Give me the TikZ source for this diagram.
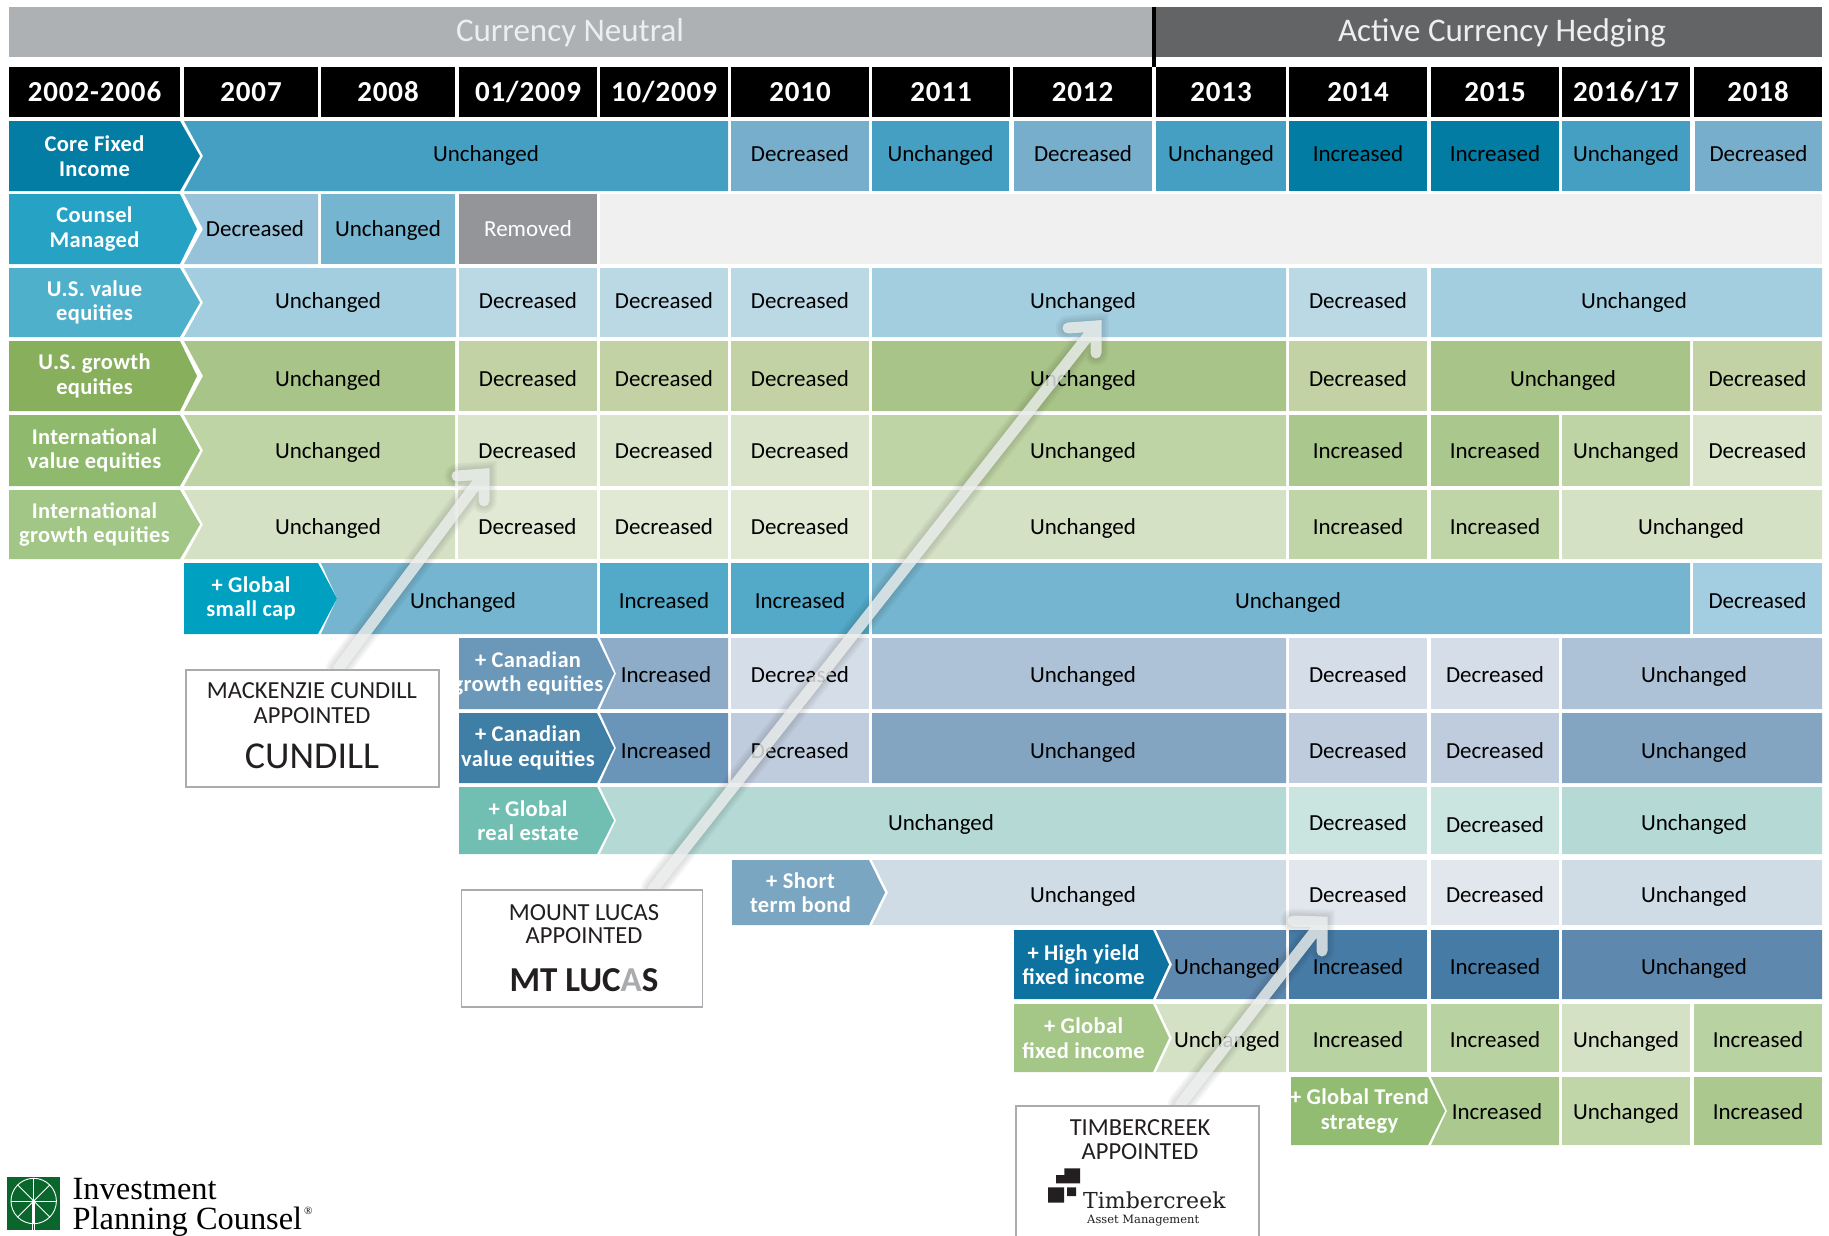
\documentclass[tikz,border=0pt]{standalone}
\usepackage{fontspec}
\setmainfont{Carlito}
\newfontfamily\hdfont[LetterSpace=3]{Carlito}
\newfontfamily\lbfont[LetterSpace=1.5]{Carlito}
\newfontfamily\ipcfont{Liberation Serif}
\newfontfamily\tcfont{DejaVu Serif}
\definecolor{bandL}{HTML}{AEB1B4}\definecolor{bandD}{HTML}{636466}\definecolor{bandT}{HTML}{EDEEEF}
\definecolor{rmv}{HTML}{939598}\definecolor{blank}{HTML}{F0F0F0}\definecolor{ink}{HTML}{231F20}
\definecolor{edge}{HTML}{A9ABAE}\definecolor{ipcg}{HTML}{0A662C}\definecolor{arw}{HTML}{EEF1EF}
\definecolor{La}{HTML}{047DA5}\definecolor{Lb}{HTML}{25A2C4}\definecolor{Lc}{HTML}{4FB0CC}
\definecolor{Ld}{HTML}{88B05C}\definecolor{Le}{HTML}{8FB96D}\definecolor{Lf}{HTML}{A2C686}
\definecolor{Lg}{HTML}{00A0C0}\definecolor{Lh}{HTML}{6B97B8}\definecolor{Li}{HTML}{3F7FA6}
\definecolor{Lj}{HTML}{70BFB2}\definecolor{Lk}{HTML}{7BA6C1}\definecolor{Ll}{HTML}{0E72A0}
\definecolor{Lm}{HTML}{A4C687}\definecolor{Ln}{HTML}{93BC73}
\definecolor{aU}{HTML}{459FC3}\definecolor{aD}{HTML}{76AECC}\definecolor{aI}{HTML}{027CA3}
\definecolor{bD}{HTML}{96C3D9}\definecolor{bU}{HTML}{75B5D0}
\definecolor{cU}{HTML}{A2CEDF}\definecolor{cD}{HTML}{BBD8E5}
\definecolor{dU}{HTML}{A9C488}\definecolor{dD}{HTML}{C3D2A5}
\definecolor{eU}{HTML}{BFD4A4}\definecolor{eD}{HTML}{D9E4CA}\definecolor{eI}{HTML}{AAC88D}
\definecolor{fU}{HTML}{D5E1C5}\definecolor{fD}{HTML}{E1E9D5}\definecolor{fI}{HTML}{BFD5A8}
\definecolor{gU}{HTML}{75B5D0}\definecolor{gI}{HTML}{53A9C8}\definecolor{gD}{HTML}{A3CDE0}
\definecolor{hU}{HTML}{ADC2D6}\definecolor{hD}{HTML}{D5DDE8}\definecolor{hI}{HTML}{8EACC7}
\definecolor{iU}{HTML}{84A5C2}\definecolor{iD}{HTML}{BFCCDD}\definecolor{iI}{HTML}{6A95B9}
\definecolor{jU}{HTML}{B5DAD6}\definecolor{jD}{HTML}{CAE4E0}
\definecolor{kU}{HTML}{CFDCE6}\definecolor{kD}{HTML}{E2E7EE}
\definecolor{lU}{HTML}{5F88AF}\definecolor{lI}{HTML}{467BA6}
\definecolor{mU}{HTML}{D4E1C4}\definecolor{mI}{HTML}{B9D2A1}
\definecolor{nI}{HTML}{ABC98F}\definecolor{nU}{HTML}{C0D6A8}
\tikzset{
  celltext/.style={anchor=base,inner sep=0pt,text=black,font=\fontsize{23}{25}\selectfont},
  hdtext/.style={anchor=base,inner sep=0pt,text=white,font=\hdfont\bfseries\fontsize{29}{30}\selectfont},
  lbtext/.style={anchor=center,inner sep=0pt,text=white,align=center,font=\lbfont\bfseries\fontsize{22.5}{24.5}\selectfont},
  bandtext/.style={anchor=base,inner sep=0pt,text=bandT,font=\fontsize{33}{35}\selectfont},
  callout/.style={draw=edge,line width=1.5pt,fill=white,inner sep=0pt,anchor=north west},
  boxtext/.style={anchor=base,inner sep=0pt,text=ink,align=center,font=\fontsize{24.5}{26}\selectfont},
  wheel/.style={draw=white,line width=0.9pt},
  shade1/.style={draw=black,opacity=0.035,line cap=round,line join=miter},
  arrowbody/.style={draw=arw,opacity=0.8,line width=11pt,line cap=round,line join=miter}
}
\newcommand{\defrow}[4]{%
  \expandafter\def\csname rt#1\endcsname{#2}%
  \expandafter\def\csname rb#1\endcsname{#3}%
  \expandafter\def\csname bl#1\endcsname{#4}}
\defrow{a}{121}{191}{161}\defrow{b}{194}{264}{236}\defrow{c}{268}{337}{308}
\defrow{d}{341}{411}{386}\defrow{e}{415}{486}{458}\defrow{f}{490}{559}{534}
\defrow{g}{563}{634}{608}\defrow{h}{638}{709}{682}\defrow{i}{713}{783}{758}
\defrow{j}{787}{854}{830}\defrow{k}{860}{925}{902}\defrow{l}{930}{999}{974}
\defrow{m}{1004}{1072}{1047}\defrow{n}{1077}{1145}{1119}
% name, x1, x2, row, colour, text  -- plain cell
\newcommand{\cell}[6]{%
  \fill[#5] (#2,\csname rt#4\endcsname) rectangle (#3,\csname rb#4\endcsname);
  \pgfmathsetmacro\cmid{(#2+#3)/2}%
  \node[celltext] (#1) at (\cmid,\csname bl#4\endcsname) {#6};}
% name, x1, notch depth, x2, row, colour, text x, text  -- cell notched by a chevron
\newcommand{\ncell}[8]{%
  \pgfmathsetmacro\nym{(\csname rt#5\endcsname+\csname rb#5\endcsname)/2}%
  \pgfmathsetmacro\nxm{#2+#3}%
  \fill[#6] (#2,\csname rt#5\endcsname) -- (#4,\csname rt#5\endcsname) -- (#4,\csname rb#5\endcsname) -- (#2,\csname rb#5\endcsname) -- (\nxm,\nym) -- cycle;
  \node[celltext] (#1) at (#7,\csname bl#5\endcsname) {#8};}
% name, x1, x2, tip, row, colour, text
\newcommand{\chev}[7]{%
  \pgfmathsetmacro\nym{(\csname rt#5\endcsname+\csname rb#5\endcsname)/2}%
  \pgfmathsetmacro\cmid{(#2+#3)/2}%
  \fill[#6] (#2,\csname rt#5\endcsname) -- (#3,\csname rt#5\endcsname) -- (#4,\nym) -- (#3,\csname rb#5\endcsname) -- (#2,\csname rb#5\endcsname) -- cycle;
  \node[lbtext] (#1) at (\cmid,\nym) {#7};}
% name, x1, x2, text
\newcommand{\hdr}[4]{%
  \fill[black] (#2,67) rectangle (#3,117);
  \pgfmathsetmacro\cmid{(#2+#3)/2}%
  \node[hdtext] (#1) at (\cmid,101) {#4};}
\begin{document}
\begin{tikzpicture}[x=1pt,y=-1pt]
\useasboundingbox (0,0) rectangle (1829,1235);
% bands
\fill[bandL] (9,7) rectangle (1152,57);
\fill[bandD] (1156,7) rectangle (1822,57);
\fill[black] (1152,7) rectangle (1156,67);
\node[bandtext] (bandA) at (570,41) {Currency Neutral};
\node[bandtext] (bandB) at (1502,41) {Active Currency Hedging};
% header
\hdr{h0}{9}{180}{2002-2006}
\hdr{h1}{184}{318}{2007}
\hdr{h2}{321}{455}{2008}
\hdr{h3}{459}{597}{01/2009}
\hdr{h4}{600}{728}{10/2009}
\hdr{h5}{731}{869}{2010}
\hdr{h6}{872}{1010}{2011}
\hdr{h7}{1013}{1152}{2012}
\hdr{h8}{1156}{1286}{2013}
\hdr{h9}{1289}{1427}{2014}
\hdr{h10}{1431}{1559}{2015}
\hdr{h11}{1562}{1690}{2016/17}
\hdr{h12}{1694}{1822}{2018}
% row a
\ncell{a1}{184}{19}{728}{a}{aU}{486}{Unchanged}
\chev{aL}{9}{180}{200}{a}{La}{Core Fixed\\Income}
\cell{a2}{731}{869}{a}{aD}{Decreased}
\cell{a3}{872}{1009}{a}{aU}{Unchanged}
\cell{a4}{1014}{1152}{a}{aD}{Decreased}
\cell{a5}{1156}{1286}{a}{aU}{Unchanged}
\cell{a6}{1289}{1427}{a}{aI}{Increased}
\cell{a7}{1431}{1559}{a}{aI}{Increased}
\cell{a8}{1562}{1690}{a}{aU}{Unchanged}
\cell{a9}{1695}{1822}{a}{aD}{Decreased}
% row b
\ncell{b1}{184}{19}{318}{b}{bD}{255}{Decreased}
\chev{bL}{9}{180}{197}{b}{Lb}{Counsel\\Managed}
\cell{b2}{321}{455}{b}{bU}{Unchanged}
\fill[rmv] (459,194) rectangle (597,264);
\node[celltext,text=white] (b3) at (528,236) {Removed};
\fill[blank] (600,194) rectangle (1822,264);
% row c
\ncell{c1}{184}{19}{456}{c}{cU}{328}{Unchanged}
\chev{cL}{9}{180}{200}{c}{Lc}{U.S. value\\equities}
\cell{c2}{459}{597}{c}{cD}{Decreased}
\cell{c3}{600}{728}{c}{cD}{Decreased}
\cell{c4}{731}{869}{c}{cD}{Decreased}
\ncell{c5}{872}{0}{1286}{c}{cU}{1083}{Unchanged}
\cell{c6}{1289}{1427}{c}{cD}{Decreased}
\ncell{c7}{1431}{0}{1822}{c}{cU}{1634}{Unchanged}
% row d
\ncell{d1}{184}{19}{455}{d}{dU}{328}{Unchanged}
\chev{dL}{9}{180}{197}{d}{Ld}{U.S. growth\\equities}
\cell{d2}{459}{597}{d}{dD}{Decreased}
\cell{d3}{600}{728}{d}{dD}{Decreased}
\cell{d4}{731}{869}{d}{dD}{Decreased}
\ncell{d5}{872}{0}{1286}{d}{dU}{1083}{Unchanged}
\cell{d6}{1289}{1427}{d}{dD}{Decreased}
\ncell{d7}{1431}{0}{1690}{d}{dU}{1563}{Unchanged}
\cell{d8}{1693}{1822}{d}{dD}{Decreased}
% row e
\ncell{e1}{184}{19}{455}{e}{eU}{328}{Unchanged}
\chev{eL}{9}{180}{200}{e}{Le}{International\\value equities}
\cell{e2}{458}{597}{e}{eD}{Decreased}
\cell{e3}{600}{728}{e}{eD}{Decreased}
\cell{e4}{731}{869}{e}{eD}{Decreased}
\ncell{e5}{872}{0}{1286}{e}{eU}{1083}{Unchanged}
\cell{e6}{1289}{1427}{e}{eI}{Increased}
\cell{e7}{1431}{1559}{e}{eI}{Increased}
\cell{e8}{1562}{1690}{e}{eU}{Unchanged}
\cell{e9}{1693}{1822}{e}{eD}{Decreased}
% row f
\ncell{f1}{184}{19}{455}{f}{fU}{328}{Unchanged}
\chev{fL}{9}{180}{200}{f}{Lf}{International\\growth equities}
\cell{f2}{458}{597}{f}{fD}{Decreased}
\cell{f3}{600}{728}{f}{fD}{Decreased}
\cell{f4}{731}{869}{f}{fD}{Decreased}
\ncell{f5}{872}{0}{1286}{f}{fU}{1083}{Unchanged}
\cell{f6}{1289}{1427}{f}{fI}{Increased}
\cell{f7}{1431}{1559}{f}{fI}{Increased}
\ncell{f8}{1562}{0}{1822}{f}{fU}{1691}{Unchanged}
% row g
\ncell{g1}{321}{16}{597}{g}{gU}{463}{Unchanged}
\chev{gL}{184}{318}{337}{g}{Lg}{+ Global\\small cap}
\cell{g2}{600}{728}{g}{gI}{Increased}
\cell{g3}{731}{869}{g}{gI}{Increased}
\ncell{g4}{872}{0}{1690}{g}{gU}{1288}{Unchanged}
\cell{g5}{1693}{1822}{g}{gD}{Decreased}
% row h
\ncell{h1}{600}{16}{728}{h}{hI}{666}{Increased}
\chev{hL}{459}{597}{614}{h}{Lh}{+ Canadian\\growth equities}
\cell{h2}{731}{869}{h}{hD}{Decreased}
\ncell{h3}{872}{0}{1286}{h}{hU}{1083}{Unchanged}
\cell{h4}{1289}{1427}{h}{hD}{Decreased}
\cell{h5}{1431}{1559}{h}{hD}{Decreased}
\ncell{h6}{1562}{0}{1822}{h}{hU}{1694}{Unchanged}
% row i
\ncell{i1}{600}{16}{728}{i}{iI}{666}{Increased}
\chev{iL}{459}{597}{614}{i}{Li}{+ Canadian\\value equities}
\cell{i2}{731}{869}{i}{iD}{Decreased}
\ncell{i3}{872}{0}{1286}{i}{iU}{1083}{Unchanged}
\cell{i4}{1289}{1427}{i}{iD}{Decreased}
\cell{i5}{1431}{1559}{i}{iD}{Decreased}
\ncell{i6}{1562}{0}{1822}{i}{iU}{1694}{Unchanged}
% row j
\ncell{j1}{600}{16}{1286}{j}{jU}{941}{Unchanged}
\chev{jL}{459}{597}{614}{j}{Lj}{+ Global\\real estate}
\cell{j2}{1289}{1427}{j}{jD}{Decreased}
\fill[jD] (1431,787) rectangle (1559,854);
\node[celltext] (j3) at (1495,832) {Decreased};
\ncell{j4}{1562}{0}{1822}{j}{jU}{1694}{Unchanged}
% row k
\ncell{k1}{872}{16}{1286}{k}{kU}{1083}{Unchanged}
\chev{kL}{732}{869}{885}{k}{Lk}{+ Short\\term bond}
\cell{k2}{1289}{1427}{k}{kD}{Decreased}
\cell{k3}{1431}{1559}{k}{kD}{Decreased}
\ncell{k4}{1562}{0}{1822}{k}{kU}{1694}{Unchanged}
% row l
\ncell{l1}{1156}{16}{1286}{l}{lU}{1227}{Unchanged}
\chev{lL}{1014}{1153}{1169}{l}{Ll}{+ High yield\\fixed income}
\cell{l2}{1289}{1427}{l}{lI}{Increased}
\cell{l3}{1431}{1559}{l}{lI}{Increased}
\ncell{l4}{1562}{0}{1822}{l}{lU}{1694}{Unchanged}
% row m
\ncell{m1}{1156}{16}{1286}{m}{mU}{1227}{Unchanged}
\chev{mL}{1014}{1153}{1169}{m}{Lm}{+ Global\\fixed income}
\cell{m2}{1289}{1427}{m}{mI}{Increased}
\cell{m3}{1431}{1559}{m}{mI}{Increased}
\cell{m4}{1562}{1690}{m}{mU}{Unchanged}
\cell{m5}{1694}{1822}{m}{mI}{Increased}
% row n
\ncell{n1}{1431}{16}{1559}{n}{nI}{1497}{Increased}
\chev{nL}{1291}{1428}{1445}{n}{Ln}{+ Global Trend\\strategy}
\cell{n2}{1562}{1690}{n}{nU}{Unchanged}
\cell{n3}{1694}{1822}{n}{nI}{Increased}
% arrow anchor points
\coordinate (tailA) at (338,669);
\coordinate (cornA) at (484,474);
\coordinate (endA1) at (457,476);
\coordinate (endA2) at (484,501);
\coordinate (tailB) at (653,889);
\coordinate (cornB) at (1096,326);
\coordinate (endB1) at (1068,328);
\coordinate (endB2) at (1096,353);
\coordinate (tailC) at (1180,1105);
\coordinate (cornC) at (1322,922);
\coordinate (endC1) at (1293,921);
\coordinate (endC2) at (1322,951);
% arrows: soft shadow and translucent body
\foreach \t/\c/\p/\q in {tailA/cornA/endA1/endA2,tailB/cornB/endB1/endB2,tailC/cornC/endC1/endC2}{
  \foreach \w in {25,21,17,13}{
    \draw[shade1,line width=\w pt,xshift=2pt,yshift=-2pt] (\t) -- (\c) (\p) -- (\c) -- (\q);
  }
  \draw[arrowbody] (\t) -- (\c) (\p) -- (\c) -- (\q);
}
% call-outs
\node[callout,minimum width=253pt,minimum height=117pt] (boxA) at (185,669) {};
\node[boxtext] (boxAt1) at (312,698) {MACKENZIE CUNDILL};
\node[boxtext] (boxAt2) at (312,723) {APPOINTED};
\node[boxtext,font=\fontsize{38}{40}\selectfont] (boxAt3) at (312,768) {CUNDILL};
\node[callout,minimum width=241pt,minimum height=117pt] (boxB) at (460.5,889) {};
\node[boxtext] (boxBt1) at (584,920) {MOUNT LUCAS};
\node[boxtext] (boxBt2) at (584,943) {APPOINTED};
\node[boxtext,font=\bfseries\fontsize{35}{37}\selectfont] (boxBt3) at (584,991) {MT LUC{\color{edge}A}S};
\node[callout,minimum width=243pt,minimum height=140pt] (boxC) at (1015,1105) {};
\node[boxtext] (boxCt1) at (1140,1135) {TIMBERCREEK};
\node[boxtext] (boxCt2) at (1140,1159) {APPOINTED};
\fill[ink] (1064.3,1168.3) rectangle (1080,1183.3) (1056,1175) rectangle (1064.3,1183.3)
           (1048,1187.3) rectangle (1064,1202.7) (1067,1187.3) rectangle (1076,1196);
\node[anchor=base west,inner sep=0pt,text=ink,font=\tcfont\fontsize{22}{24}\selectfont] (tcA) at (1083,1208) {Timbercreek};
\node[anchor=base west,inner sep=0pt,text=ink,font=\tcfont\fontsize{11.5}{13}\selectfont] (tcB) at (1087,1223) {Asset Management};
% logo
\fill[ipcg] (7,1177) rectangle (60,1230);
\draw[wheel] (33.7,1201) circle (22.7);
\foreach \a in {0,45,...,315}{ \draw[wheel] (33.7,1201) -- ++(\a:22.7); }
\draw[wheel] (32.7,1201) -- (32.7,1230) (34.7,1201) -- (34.7,1230);
\fill[white] (33.7,1201) circle (1.8);
\node[anchor=base west,inner sep=0pt,text=black,font=\ipcfont\fontsize{32.4}{34}\selectfont] (ipcA) at (72.5,1199) {Investment};
\node[anchor=base west,inner sep=0pt,text=black,font=\ipcfont\fontsize{32.4}{34}\selectfont] (ipcB) at (72.5,1229) {Planning Counsel};
\node[anchor=base west,inner sep=0pt,text=black,font=\ipcfont\fontsize{11}{12}\selectfont] (ipcC) at (304,1214) {®};
\end{tikzpicture}
\end{document}
